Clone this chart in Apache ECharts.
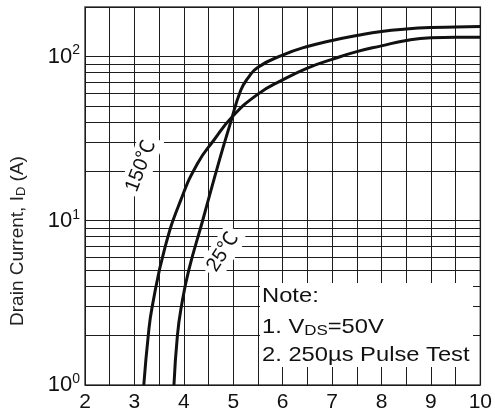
<!DOCTYPE html>
<html>
<head>
<meta charset="utf-8">
<script src="https://cdn.jsdelivr.net/npm/echarts@6/dist/echarts.min.js"></script>
<style>
html,body{margin:0;padding:0;background:#fff;}
#c{width:495px;height:416px;}
</style>
</head>
<body>
<div id="c"></div>
<script>
// X axis (Gate-Source voltage, V) tick values
const xTicks = [2, 3, 4, 5, 6, 7, 8, 9, 10];
// Y axis decades (log) and minor grid values
const yDecades = [1, 10, 100];
const yMinorGrid = [2, 3, 4, 5, 6, 7, 8, 9, 20, 30, 40, 50, 60, 70, 80, 90];

// 150 °C curve
const vgs150 = [3.19, 3.28, 3.36, 3.62, 3.94, 4.28, 4.61, 4.98, 5.5, 6.0, 6.5, 7.0, 7.5, 8.0, 8.5, 9.0, 9.5, 10];
const id150  = [1, 2, 3, 6.9, 13.4, 22.4, 31, 43, 59, 72, 85, 96, 107, 116, 125, 130, 131, 131];

// 25 °C curve
const vgs25 = [3.80, 3.87, 3.95, 4.10, 4.38, 4.72, 4.94, 5.15, 5.3, 5.5, 6.0, 6.5, 7.0, 7.5, 8.0, 8.5, 9.0, 9.5, 10];
const id25  = [1, 2, 3, 5, 10, 23.4, 39, 62, 74, 86, 102, 115, 125, 134, 142, 147, 150, 151, 152];

const FONT = '"Liberation Sans", Arial, sans-serif';
const GRID_C = '#1c1c1c';

function pairs(xs, ys) { return xs.map((x, i) => [x, ys[i]]); }

const chart = echarts.init(document.getElementById('c'), null, {renderer: 'canvas'});

const option = {
  backgroundColor: '#fff',
  animation: false,
  grid: {left: 85, right: 7, top: 7, bottom: 31, show: true, borderColor: '#444', borderWidth: 1.5, backgroundColor: 'transparent'},
  xAxis: {
    type: 'value', min: xTicks[0], max: xTicks[xTicks.length - 1], interval: 1,
    axisLine: {show: false}, axisTick: {show: false},
    axisLabel: {fontFamily: FONT, fontSize: 21, color: '#111', margin: 7},
    splitLine: {show: true, lineStyle: {color: GRID_C, width: 1}},
    minorTick: {show: false, splitNumber: 2},
    minorSplitLine: {show: true, lineStyle: {color: GRID_C, width: 1}}
  },
  yAxis: {
    type: 'log', logBase: 10, min: 1, max: 200,
    axisLine: {show: false}, axisTick: {show: false},
    axisLabel: {
      margin: 5,
      formatter: function (v) {
        const i = yDecades.indexOf(v);
        if (i < 0) return '';
        return '{b|10}{s|' + Math.round(Math.log10(v)) + '}';
      },
      rich: {
        b: {fontFamily: FONT, fontSize: 22, color: '#111'},
        s: {fontFamily: FONT, fontSize: 14, color: '#111', padding: [0, 0, 12, 0]}
      }
    },
    splitLine: {show: true, lineStyle: {color: GRID_C, width: 1}}
  },
  series: [
    {
      type: 'line', data: pairs(vgs150, id150), smooth: 0.5, showSymbol: false,
      lineStyle: {color: '#111', width: 3}, z: 5,
      markLine: {
        silent: true, symbol: 'none', animation: false,
        label: {show: false},
        lineStyle: {color: GRID_C, width: 1, type: 'solid'},
        data: yMinorGrid.map(v => ({yAxis: v}))
      }
    },
    {
      type: 'line', data: pairs(vgs25, id25), smooth: 0.5, showSymbol: false,
      lineStyle: {color: '#111', width: 3}, z: 5
    }
  ],
  graphic: [
    {
      type: 'text', x: 18, y: 241, rotation: Math.PI / 2, z: 100,
      style: {
        text: '{n|Drain Current, I}{s|D}{n| (A)}',
        align: 'center', verticalAlign: 'middle',
        rich: {
          n: {fontFamily: FONT, fontSize: 19, fill: '#222'},
          s: {fontFamily: FONT, fontSize: 13, fill: '#222', padding: [7, 0, 0, 0]}
        }
      }
    },
    {
      type: 'rect', z: 100,
      shape: {x: 260, y: 283, width: 213, height: 84},
      style: {fill: '#fff'}
    },
    {
      type: 'text', x: 262, y: 296, z: 101, scaleX: 1.13, originX: 0,
      style: {text: 'Note:', fontFamily: FONT, fontSize: 21, fill: '#111', align: 'left', verticalAlign: 'middle'}
    },
    {
      type: 'text', x: 262, y: 327, z: 101, scaleX: 1.13, originX: 0,
      style: {
        text: '{n|1. V}{s|DS}{n|=50V}', align: 'left', verticalAlign: 'middle',
        rich: {
          n: {fontFamily: FONT, fontSize: 21, fill: '#111'},
          s: {fontFamily: FONT, fontSize: 15, fill: '#111', padding: [7, 0, 0, 0]}
        }
      }
    },
    {
      type: 'text', x: 262, y: 355, z: 101, scaleX: 1.13, originX: 0,
      style: {text: '2. 250µs Pulse Test', fontFamily: FONT, fontSize: 21, fill: '#111', align: 'left', verticalAlign: 'middle'}
    },
    {
      type: 'text', x: 141, y: 166, z: 100, rotation: 69 * Math.PI / 180,
      style: {
        text: '150℃', fontFamily: '"Liberation Sans", "Noto Sans CJK SC", sans-serif', fontSize: 20, fill: '#111',
        align: 'center', verticalAlign: 'middle', backgroundColor: '#fff', padding: [3, 4]
      }
    },
    {
      type: 'text', x: 223, y: 252, z: 100, rotation: 57 * Math.PI / 180,
      style: {
        text: '25℃', fontFamily: '"Liberation Sans", "Noto Sans CJK SC", sans-serif', fontSize: 20, fill: '#111',
        align: 'center', verticalAlign: 'middle', backgroundColor: '#fff', padding: [3, 4]
      }
    }
  ]
};
chart.setOption(option);
</script>
</body>
</html>
